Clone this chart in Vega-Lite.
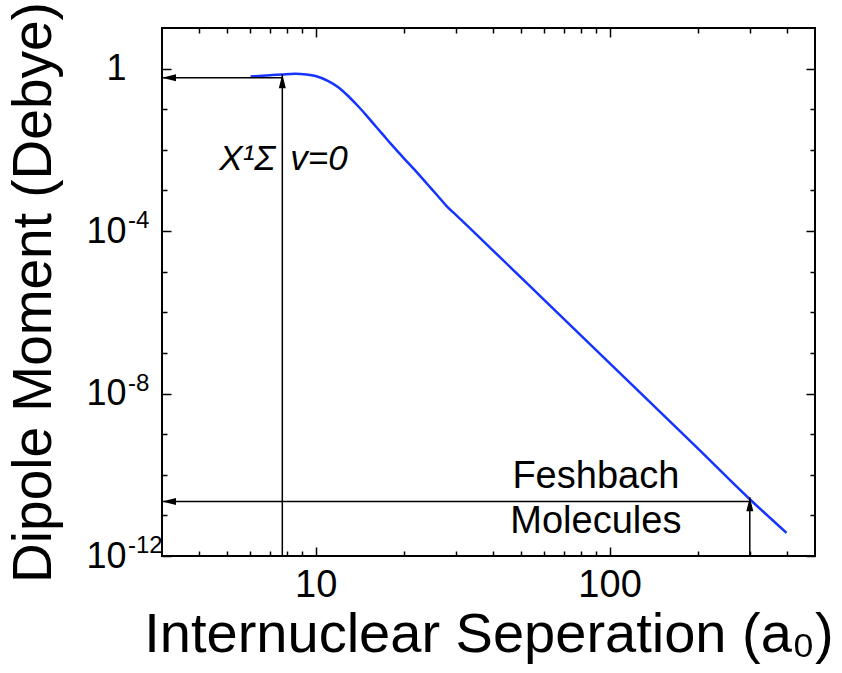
{
  "$schema": "https://vega.github.io/schema/vega-lite/v6.json",
  "width": 653,
  "height": 528,
  "autosize": {"type": "none"},
  "padding": {"left": 162, "top": 28, "right": 27, "bottom": 117},
  "background": "white",
  "config": {
    "view": {"stroke": "#000", "strokeWidth": 2},
    "axis": {
      "domain": false, "grid": false, "tickColor": "#000", "tickWidth": 1.5,
      "labelFont": "Liberation Sans", "titleFont": "Liberation Sans",
      "labelColor": "#000", "titleColor": "#000", "titleFontWeight": "normal",
      "labelFlush": false, "labelOverlap": false
    }
  },
  "datasets": {
    "curve": [
      {"x": 6, "y": 0.64}, {"x": 7, "y": 0.69}, {"x": 7.7, "y": 0.72}, {"x": 8.5, "y": 0.745},
      {"x": 9.3, "y": 0.72}, {"x": 10, "y": 0.66}, {"x": 11, "y": 0.5}, {"x": 12, "y": 0.34},
      {"x": 13, "y": 0.2}, {"x": 14, "y": 0.115}, {"x": 15, "y": 0.066}, {"x": 16, "y": 0.038},
      {"x": 17, "y": 0.023}, {"x": 18, "y": 0.0142}, {"x": 19, "y": 0.0092}, {"x": 20, "y": 0.0061},
      {"x": 22, "y": 0.0029}, {"x": 24, "y": 0.00142}, {"x": 26, "y": 0.00074}, {"x": 28, "y": 0.0004},
      {"x": 30, "y": 0.00025}, {"x": 40, "y": 3.4e-5}, {"x": 60, "y": 2.0e-6}, {"x": 100, "y": 5.6e-8},
      {"x": 200, "y": 4.4e-10}, {"x": 300, "y": 2.5e-11}, {"x": 400, "y": 3.7e-12}
    ],
    "arrows": [
      {"x": 3, "x2": 7.7, "y": 0.6, "y2": 0.6},
      {"x": 7.7, "x2": 7.7, "y": 1e-12, "y2": 0.73},
      {"x": 3, "x2": 300, "y": 2.2e-11, "y2": 2.2e-11},
      {"x": 300, "x2": 300, "y": 1e-12, "y2": 2.8e-11}
    ],
    "heads": [
      {"x": 3, "y": 0.6, "dir": "left"},
      {"x": 7.7, "y": 0.73, "dir": "up"},
      {"x": 3, "y": 2.2e-11, "dir": "left"},
      {"x": 300, "y": 2.8e-11, "dir": "up"}
    ],
    "fesh": [
      {"label": "Feshbach", "x": 89.8, "y": 4.7e-11},
      {"label": "Molecules", "x": 89.8, "y": 3.6e-12}
    ],
    "state": [
      {"left": "X¹Σ", "right": "v=0", "x": 7.7, "y": 3.2e-3}
    ],
    "exps": [
      {"x": 3, "y": 1e-4, "exp": "-4"},
      {"x": 3, "y": 1e-8, "exp": "-8"},
      {"x": 3, "y": 1e-12, "exp": "-12"}
    ]
  },
  "resolve": {"axis": {"x": "independent", "y": "independent"}},
  "layer": [
    {
      "data": {"name": "curve"},
      "mark": {"type": "line", "color": "#1634ff", "strokeWidth": 2.5, "interpolate": "monotone"},
      "encoding": {
        "x": {"field": "x", "type": "quantitative",
          "scale": {"type": "log", "domain": [3, 500], "nice": false},
          "axis": {"orient": "bottom", "values": [10, 100], "ticks": false, "labelFontSize": 38, "labelPadding": 10,
            "labelExpr": "datum.value >= 50 ? '100' : '10'",
            "title": "Internuclear Seperation (a₀)", "titleFontSize": 56, "titleY": 95, "titleBaseline": "alphabetic"}},
        "y": {"field": "y", "type": "quantitative",
          "scale": {"type": "log", "domain": [1e-12, 10], "nice": false},
          "axis": {"orient": "left", "values": [1e-12, 1e-8, 1e-4, 1], "ticks": false, "labelFontSize": 36, "labelPadding": 36,
            "labelExpr": "datum.value >= 0.5 ? '1' : '10'",
            "encode": {"labels": {"update": {"dx": {"signal": "datum.value >= 0.5 ? 9 : 0"}}}},
            "title": "Dipole Moment (Debye)", "titleFontSize": 55, "titleX": -112, "titleBaseline": "alphabetic"}}
      }
    },
    {
      "data": {"name": "arrows"},
      "mark": {"type": "rule", "color": "#000", "strokeWidth": 1.5},
      "encoding": {
        "x": {"field": "x", "type": "quantitative", "scale": {"type": "log", "domain": [3, 500], "nice": false},
          "axis": {"orient": "bottom", "values": [10, 100], "labels": false, "tickSize": -9, "title": null}},
        "x2": {"field": "x2"},
        "y": {"field": "y", "type": "quantitative", "scale": {"type": "log", "domain": [1e-12, 10], "nice": false},
          "axis": {"orient": "left", "values": [1e-12, 1e-8, 1e-4, 1], "labels": false, "tickSize": -9, "title": null}},
        "y2": {"field": "y2"}
      }
    },
    {
      "data": {"name": "heads"},
      "mark": {"type": "point", "filled": true, "color": "#000", "opacity": 1, "size": 196},
      "encoding": {
        "x": {"field": "x", "type": "quantitative", "scale": {"type": "log", "domain": [3, 500], "nice": false},
          "axis": {"orient": "bottom", "values": [4, 5, 6, 7, 8, 9, 20, 30, 40, 50, 60, 70, 80, 90, 200, 300, 400], "labels": false, "tickSize": -5, "title": null}},
        "y": {"field": "y", "type": "quantitative", "scale": {"type": "log", "domain": [1e-12, 10], "nice": false},
          "axis": {"orient": "left", "values": [1e-11, 1e-10, 1e-9, 1e-7, 1e-6, 1e-5, 1e-3, 1e-2, 1e-1], "labels": false, "tickSize": -5, "title": null}},
        "shape": {"field": "dir", "type": "nominal", "legend": null,
          "scale": {"domain": ["left", "up"], "range": ["M0,0L2,-0.5L2,0.5Z", "M0,0L-0.5,2L0.5,2Z"]}}
      }
    },
    {
      "data": {"name": "fesh"},
      "mark": {"type": "text", "font": "Liberation Sans", "fontSize": 38, "color": "#000", "align": "center", "baseline": "alphabetic"},
      "encoding": {
        "x": {"field": "x", "type": "quantitative", "scale": {"type": "log", "domain": [3, 500], "nice": false},
          "axis": {"orient": "top", "values": [10, 100], "labels": false, "tickSize": -9, "title": null}},
        "y": {"field": "y", "type": "quantitative", "scale": {"type": "log", "domain": [1e-12, 10], "nice": false},
          "axis": {"orient": "right", "values": [1e-12, 1e-8, 1e-4, 1], "labels": false, "tickSize": -9, "title": null}},
        "text": {"field": "label"}
      }
    },
    {
      "data": {"name": "state"},
      "mark": {"type": "text", "font": "Liberation Sans", "fontSize": 35, "fontStyle": "italic", "color": "#000", "align": "right", "baseline": "alphabetic", "dx": -7},
      "encoding": {
        "x": {"field": "x", "type": "quantitative", "scale": {"type": "log", "domain": [3, 500], "nice": false},
          "axis": {"orient": "top", "values": [4, 5, 6, 7, 8, 9, 20, 30, 40, 50, 60, 70, 80, 90, 200, 300, 400], "labels": false, "tickSize": -5, "title": null}},
        "y": {"field": "y", "type": "quantitative", "scale": {"type": "log", "domain": [1e-12, 10], "nice": false},
          "axis": {"orient": "right", "values": [1e-11, 1e-10, 1e-9, 1e-7, 1e-6, 1e-5, 1e-3, 1e-2, 1e-1], "labels": false, "tickSize": -5, "title": null}},
        "text": {"field": "left"}
      }
    },
    {
      "data": {"name": "state"},
      "mark": {"type": "text", "font": "Liberation Sans", "fontSize": 35, "fontStyle": "italic", "color": "#000", "align": "left", "baseline": "alphabetic", "dx": 8},
      "encoding": {
        "x": {"field": "x", "type": "quantitative", "scale": {"type": "log", "domain": [3, 500], "nice": false}, "axis": null},
        "y": {"field": "y", "type": "quantitative", "scale": {"type": "log", "domain": [1e-12, 10], "nice": false}, "axis": null},
        "text": {"field": "right"}
      }
    },
    {
      "data": {"name": "exps"},
      "mark": {"type": "text", "font": "Liberation Sans", "fontSize": 24, "color": "#000", "align": "left", "baseline": "alphabetic", "dx": -34, "dy": -3},
      "encoding": {
        "x": {"field": "x", "type": "quantitative", "scale": {"type": "log", "domain": [3, 500], "nice": false}, "axis": null},
        "y": {"field": "y", "type": "quantitative", "scale": {"type": "log", "domain": [1e-12, 10], "nice": false}, "axis": null},
        "text": {"field": "exp"}
      }
    }
  ]
}
